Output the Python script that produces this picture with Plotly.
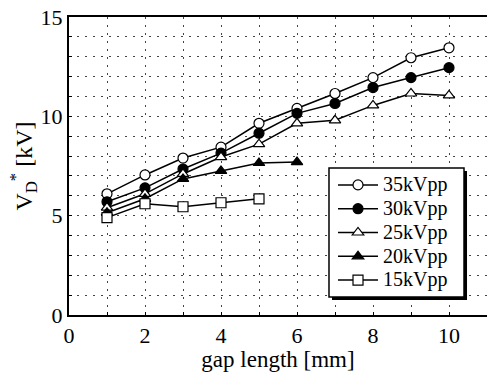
import plotly.graph_objects as go

gap = [1, 2, 3, 4, 5, 6, 7, 8, 9, 10]
v35 = [6.1, 7.05, 7.9, 8.45, 9.65, 10.4, 11.15, 11.95, 12.95, 13.45]
v30 = [5.7, 6.4, 7.35, 8.15, 9.15, 10.15, 10.65, 11.45, 11.95, 12.45]
v25 = [5.4, 6.1, 7.1, 7.95, 8.6, 9.65, 9.8, 10.55, 11.15, 11.05]
gap20 = [1, 2, 3, 4, 5, 6]
v20 = [5.15, 5.85, 6.85, 7.25, 7.65, 7.7]
gap15 = [1, 2, 3, 4, 5]
v15 = [4.9, 5.6, 5.45, 5.65, 5.85]

series = [
    ("35kVpp", gap, v35, "circle", "white"),
    ("30kVpp", gap, v30, "circle", "black"),
    ("25kVpp", gap, v25, "triangle-up", "white"),
    ("20kVpp", gap20, v20, "triangle-up", "black"),
    ("15kVpp", gap15, v15, "square", "white"),
]

FONT = "Liberation Serif, DejaVu Serif, Times New Roman, serif"
GRID = dict(showgrid=True, gridcolor="#444", griddash="2px,6px", gridwidth=1)

fig = go.Figure()
for name, xs, ys, sym, fill in series:
    fig.add_trace(go.Scatter(
        x=xs, y=ys, name="<span style='font-size:20px'>" + name + "</span>",
        mode="lines+markers",
        line=dict(color="black", width=1.5),
        marker=dict(symbol=sym, size=10, color=fill,
                    line=dict(color="black", width=1.2)),
    ))

# legend frame with drop shadow (paper coordinates)
fig.add_shape(type="rect", xref="paper", yref="paper", layer="above",
              x0=0.6292, x1=0.9522, y0=0.0503, y1=0.4832,
              fillcolor="black", line=dict(width=0))
fig.add_shape(type="rect", xref="paper", yref="paper", layer="above",
              x0=0.622, x1=0.945, y0=0.0604, y1=0.4933,
              fillcolor="white", line=dict(color="black", width=1.5))

fig.update_layout(
    width=487, height=372,
    margin=dict(l=69, r=0, t=17, b=57),
    paper_bgcolor="white", plot_bgcolor="white",
    font=dict(family=FONT, size=22, color="black"),
    showlegend=True,
    legend=dict(x=0.6316, y=0.4933, xanchor="left", yanchor="top",
                bgcolor="rgba(0,0,0,0)", borderwidth=0,
                font=dict(family=FONT, size=16, color="black"), tracegroupgap=0,
                itemwidth=40),
    xaxis=dict(range=[0, 11], tickvals=[0, 2, 4, 6, 8, 10], showline=True,
               linecolor="black", linewidth=2, mirror=True,
               ticks="inside", ticklen=3, tickcolor="black", tickwidth=1,
               automargin=False,
               minor=dict(dtick=1, tick0=0, ticks="inside", ticklen=3, tickcolor="black", **GRID), **GRID,
               zeroline=False, tickfont=dict(size=22, color="black"),
               title=dict(text="gap length [mm]", font=dict(family=FONT, size=23, color="black"), standoff=8)),
    yaxis=dict(range=[0, 15], tickvals=[0, 5, 10, 15], showline=True,
               linecolor="black", linewidth=2, mirror=True,
               ticks="inside", ticklen=3, tickcolor="black", tickwidth=1,
               automargin=False,
               minor=dict(dtick=1, tick0=0, ticks="inside", ticklen=3, tickcolor="black", **GRID), **GRID,
               zeroline=False, ticklabelstandoff=0, tickfont=dict(size=22, color="black"),
               title=dict(text="V<sub>D</sub><sup>*</sup> [kV]", font=dict(family=FONT, size=24, color="black"), standoff=0)),
)

fig.write_html("out.html", config={"displayModeBar": False},
               post_script="document.body.style.margin='0';document.body.style.padding='0';")
